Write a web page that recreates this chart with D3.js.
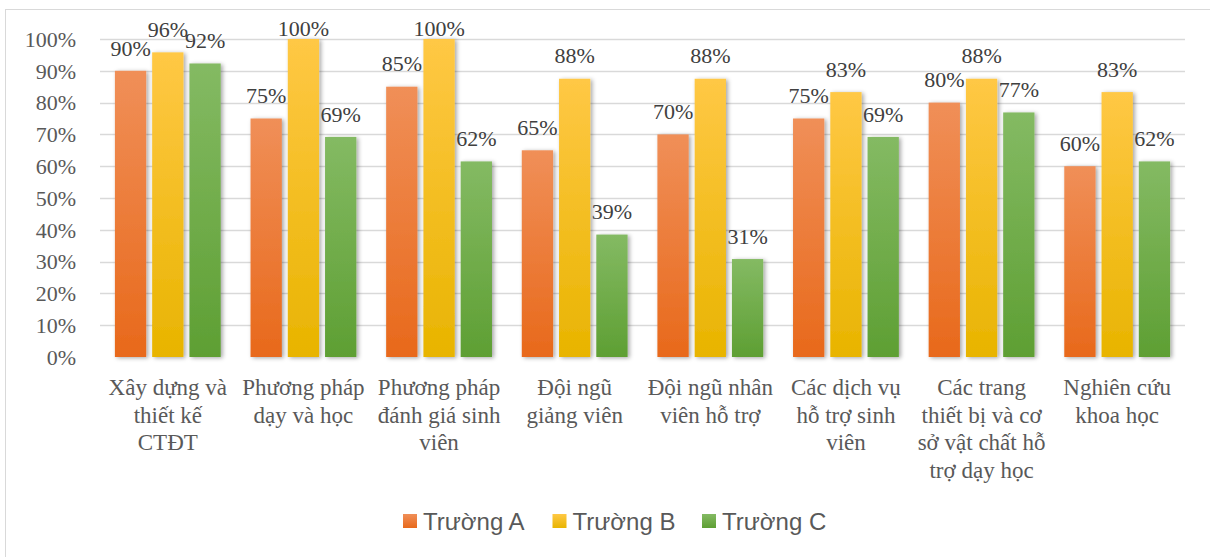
<!DOCTYPE html>
<html>
<head>
<meta charset="utf-8">
<script src="https://cdn.jsdelivr.net/npm/d3@7/dist/d3.min.js"></script>
<style>
  body { margin: 0; background: #fff; }
  svg { display: block; }
</style>
</head>
<body>
<div id="chart"></div>
<script>
var categories = [
  "Xây dựng và thiết kế CTĐT",
  "Phương pháp dạy và học",
  "Phương pháp đánh giá sinh viên",
  "Đội ngũ giảng viên",
  "Đội ngũ nhân viên hỗ trợ",
  "Các dịch vụ hỗ trợ sinh viên",
  "Các trang thiết bị và cơ sở vật chất hỗ trợ dạy học",
  "Nghiên cứu khoa học"
];
// wrapped lines as shown under the axis
var categoryLines = [
  ["Xây dựng và", "thiết kế", "CTĐT"],
  ["Phương pháp", "dạy và học"],
  ["Phương pháp", "đánh giá sinh", "viên"],
  ["Đội ngũ", "giảng viên"],
  ["Đội ngũ nhân", "viên hỗ trợ"],
  ["Các dịch vụ", "hỗ trợ sinh", "viên"],
  ["Các trang", "thiết bị và cơ", "sở vật chất hỗ", "trợ dạy học"],
  ["Nghiên cứu", "khoa học"]
];
var seriesNames = ["Trường A", "Trường B", "Trường C"];
var truongA = [0.90, 0.75, 0.85, 0.65, 0.70, 0.75, 0.80, 0.60];
var truongB = [0.958, 1.00, 1.00, 0.875, 0.875, 0.833, 0.875, 0.833];
var truongC = [0.923, 0.692, 0.615, 0.385, 0.308, 0.692, 0.769, 0.615];
var yTicks = [0, 0.1, 0.2, 0.3, 0.4, 0.5, 0.6, 0.7, 0.8, 0.9, 1.0];

var seriesValues = [truongA, truongB, truongC];
var colors = [
  { top: "#f08f58", bottom: "#e8691b" },
  { top: "#ffc845", bottom: "#e8b400" },
  { top: "#84ba63", bottom: "#5e9f33" }
];

var svgWidth = 1210;
var svgHeight = 557;
var margin = { top: 39, right: 25, bottom: 200, left: 100 };
var width = 1185 - margin.left;
var height = 357 - margin.top;

var svg = d3.select("#chart")
  .append("svg")
  .attr("width", svgWidth)
  .attr("height", svgHeight);

var defs = svg.append("defs");
colors.forEach(function(c, i) {
  var g = defs.append("linearGradient")
    .attr("id", "grad" + i)
    .attr("x1", 0).attr("y1", 0).attr("x2", 0).attr("y2", 1);
  g.append("stop").attr("offset", "0%").attr("stop-color", c.top);
  g.append("stop").attr("offset", "100%").attr("stop-color", c.bottom);
});
defs.append("filter")
  .attr("id", "shadow")
  .attr("x", "-20%").attr("y", "-10%").attr("width", "150%").attr("height", "130%")
  .append("feDropShadow")
  .attr("dx", 2).attr("dy", 1)
  .attr("stdDeviation", 2)
  .attr("flood-color", "#000")
  .attr("flood-opacity", 0.35);

// outer frame
svg.append("rect")
  .attr("x", 5.5).attr("y", 9.5)
  .attr("width", svgWidth + 10).attr("height", svgHeight + 10)
  .attr("fill", "none")
  .attr("stroke", "#d9d9d9");

var chartGroup = svg.append("g")
  .attr("transform", `translate(${margin.left}, ${margin.top})`);

var x0 = d3.scaleBand()
  .domain(d3.range(categories.length))
  .range([0, width]);

var x1 = d3.scaleBand()
  .domain(d3.range(seriesNames.length))
  .range([0, x0.bandwidth()])
  .paddingInner(0.16)
  .paddingOuter(0.4);

var y = d3.scaleLinear()
  .domain([0, 1])
  .range([height, 0]);

// gridlines
chartGroup.append("g")
  .selectAll("line")
  .data(yTicks.slice(1))
  .enter()
  .append("line")
  .attr("x1", 0)
  .attr("x2", width)
  .attr("y1", d => Math.round(y(d)) + 0.5)
  .attr("y2", d => Math.round(y(d)) + 0.5)
  .attr("stroke", "#d9d9d9")
  .attr("stroke-width", 1.3);

// y tick labels
chartGroup.append("g")
  .selectAll("text")
  .data(yTicks)
  .enter()
  .append("text")
  .attr("x", -24)
  .attr("y", d => y(d))
  .attr("dy", "0.35em")
  .attr("text-anchor", "end")
  .attr("font-family", "Liberation Serif, Times New Roman, serif")
  .attr("font-size", "22px")
  .attr("fill", "#595959")
  .text(d3.format(".0%"));

// bars
var groups = chartGroup.selectAll(".cat")
  .data(categories)
  .enter()
  .append("g")
  .attr("class", "cat")
  .attr("transform", (d, i) => `translate(${x0(i)}, 0)`);

var barData = (d, i) => seriesValues.map((vals, s) => ({ s: s, v: vals[i] }));

groups.selectAll("rect")
  .data(barData)
  .enter()
  .append("rect")
  .attr("x", d => x1(d.s))
  .attr("y", d => y(d.v))
  .attr("width", x1.bandwidth())
  .attr("height", d => height - y(d.v))
  .attr("fill", d => `url(#grad${d.s})`)
  .attr("filter", "url(#shadow)");

// axis line
chartGroup.append("line")
  .attr("x1", 0)
  .attr("x2", width)
  .attr("y1", height + 0.5)
  .attr("y2", height + 0.5)
  .attr("stroke", "#c8c8c8")
  .attr("stroke-width", 2)
  .attr("filter", "url(#shadow)");

// data labels
groups.selectAll(".lbl")
  .data(barData)
  .enter()
  .append("text")
  .attr("class", "lbl")
  .attr("x", d => x1(d.s) + x1.bandwidth() / 2)
  .attr("y", d => Math.max(y(d.v) - 23, -11))
  .attr("dy", "0.35em")
  .attr("text-anchor", "middle")
  .attr("font-family", "Liberation Serif, Times New Roman, serif")
  .attr("font-size", "22px")
  .attr("fill", "#404040")
  .text(d => d3.format(".0%")(d.v));

// category labels
groups.append("text")
  .attr("x", x0.bandwidth() / 2)
  .attr("y", height + 38)
  .attr("text-anchor", "middle")
  .attr("font-family", "Liberation Serif, Times New Roman, serif")
  .attr("font-size", "23px")
  .attr("fill", "#595959")
  .each(function(d, i) {
    var t = d3.select(this);
    categoryLines[i].forEach(function(line, k) {
      t.append("tspan")
        .attr("x", x0.bandwidth() / 2)
        .attr("dy", k === 0 ? 0 : 27.5)
        .text(line);
    });
  });

// legend
var legend = svg.append("g")
  .attr("transform", "translate(403, 514)");

var items = legend.selectAll("g")
  .data(seriesNames)
  .enter()
  .append("g")
  .attr("transform", (d, i) => `translate(${i * 149.5}, 0)`);

items.append("rect")
  .attr("width", 14)
  .attr("height", 14)
  .attr("fill", (d, i) => `url(#grad${i})`);

items.append("text")
  .attr("x", 20)
  .attr("y", 7)
  .attr("dy", "0.36em")
  .attr("font-family", "Liberation Sans, Arial, sans-serif")
  .attr("font-size", "24px")
  .attr("fill", "#595959")
  .text(d => d);
</script>
</body>
</html>
